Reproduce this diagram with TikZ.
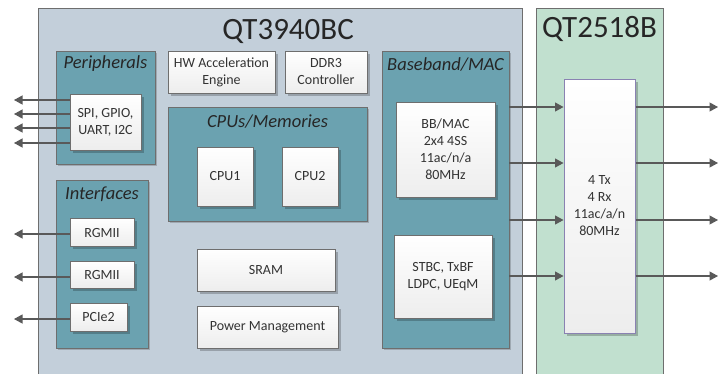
\documentclass[tikz,border=0pt]{standalone}
\usepackage{fontspec}
\setmainfont{Carlito}
\usetikzlibrary{arrows.meta,shadows}
\definecolor{mainbg}{HTML}{C3CFDA}
\definecolor{greenbg}{HTML}{C1E0CF}
\definecolor{tealbg}{HTML}{6BA2B0}
\definecolor{borderg}{HTML}{6E6E6E}
\definecolor{txt}{HTML}{333333}
\definecolor{arrc}{HTML}{595959}
\definecolor{rfborder}{HTML}{8A82B2}
\tikzset{
  chip/.style={draw=borderg, line width=0.8pt, rectangle, inner sep=0pt},
  tealbox/.style={draw=borderg, fill=tealbg, line width=0.9pt, rectangle, inner sep=0pt,
     drop shadow={shadow xshift=2pt, shadow yshift=-2pt, fill=black, opacity=0.18}},
  wbox/.style={draw=borderg, line width=0.7pt, rectangle, inner sep=1pt, align=center,
     top color=white, bottom color=black!7, text=txt,
     font=\fontsize{14}{17}\selectfont,
     drop shadow={shadow xshift=2.5pt, shadow yshift=-2.5pt, fill=black, opacity=0.22}},
  tlabel/.style={font=\fontsize{18.5}{20}\itshape\selectfont, text=black!85, inner sep=0pt},
  title/.style={font=\fontsize{31}{34}\selectfont, text=black!85, inner sep=0pt},
  arr/.style={draw=arrc, line width=1.1pt, -{Triangle[length=8.5pt,width=9pt]}, color=arrc}
}
\begin{document}
\begin{tikzpicture}[x=1pt,y=-1pt]
\useasboundingbox (0,0) rectangle (722,373);
\clip (0,0) rectangle (722,373);
\fill[white] (0,0) rectangle (722,373);
% chips
\node[chip, fill=mainbg, minimum width=484pt, minimum height=380pt] (main) at (280,198) {};
\node[chip, fill=greenbg, minimum width=127pt, minimum height=380pt] (rfchip) at (599.5,198) {};
\node[title] (t1) at (288,31) {QT3940BC};
\node[title] (t2) at (599.5,29) {QT2518B};
% teal groups
\node[tealbox, minimum width=99pt, minimum height=113pt] (per) at (105.5,107.5) {};
\node[tlabel] (perl) at (105.5,64) {Peripherals};
\node[tealbox, minimum width=92pt, minimum height=168pt] (itf) at (102,264) {};
\node[tlabel] (itfl) at (102,194) {Interfaces};
\node[tealbox, minimum width=199pt, minimum height=114pt] (cpus) at (267.5,164) {};
\node[tlabel] (cpusl) at (267.5,122) {CPUs/Memories};
\node[tealbox, minimum width=127pt, minimum height=297pt] (bb) at (445.5,199.5) {};
\node[tlabel] (bbl) at (445.5,64) {Baseband/MAC};
% white boxes
\node[wbox, minimum width=71pt, minimum height=56pt] (spi) at (105.5,122) {SPI, GPIO,\\UART, I2C};
\node[wbox, minimum width=64pt, minimum height=28pt] (r1) at (102,232.5) {RGMII};
\node[wbox, minimum width=64pt, minimum height=27pt] (r2) at (102,275) {RGMII};
\node[wbox, minimum width=57pt, minimum height=28pt] (pcie) at (98.5,317) {PCIe2};
\node[wbox, minimum width=107pt, minimum height=42pt] (hw) at (221.5,72) {HW Acceleration\\Engine};
\node[wbox, minimum width=82pt, minimum height=42pt] (ddr) at (326,72) {DDR3\\Controller};
\node[wbox, minimum width=56pt, minimum height=59pt] (cpu1) at (225,176.5) {CPU1};
\node[wbox, minimum width=56pt, minimum height=59pt] (cpu2) at (310,176.5) {CPU2};
\node[wbox, minimum width=138pt, minimum height=42pt] (sram) at (266,270) {SRAM};
\node[wbox, minimum width=141pt, minimum height=42pt] (pm) at (267.5,327) {Power Management};
\node[wbox, minimum width=99pt, minimum height=95pt] (bbmac) at (445.5,149.5) {BB/MAC\\2x4 4SS\\11ac/n/a\\80MHz};
\node[wbox, minimum width=98pt, minimum height=83pt] (stbc) at (443,276.5) {STBC, TxBF\\LDPC, UEqM};
\node[wbox, draw=rfborder, line width=1pt, minimum width=71pt, minimum height=254pt] (rf) at (599.5,206) {4 Tx\\4 Rx\\11ac/a/n\\80MHz};
% free ends
\coordinate (lx) at (14,0);
\coordinate (rx) at (718,0);
% left arrows
\foreach \yy in {100,114,128,143}{
  \draw[arr] (spi.west |- 0,\yy) -- (lx |- 0,\yy);
}
\draw[arr] (r1.west |- 0,234) -- (lx |- 0,234);
\draw[arr] (r2.west |- 0,277) -- (lx |- 0,277);
\draw[arr] (pcie.west |- 0,319) -- (lx |- 0,319);
% baseband to RF
\foreach \yy in {107,163,220,276}{
  \draw[arr] (bb.east |- 0,\yy) -- (rf.west |- 0,\yy);
  \draw[arr] (rf.east |- 0,\yy) -- (rx |- 0,\yy);
}
\end{tikzpicture}
\end{document}
